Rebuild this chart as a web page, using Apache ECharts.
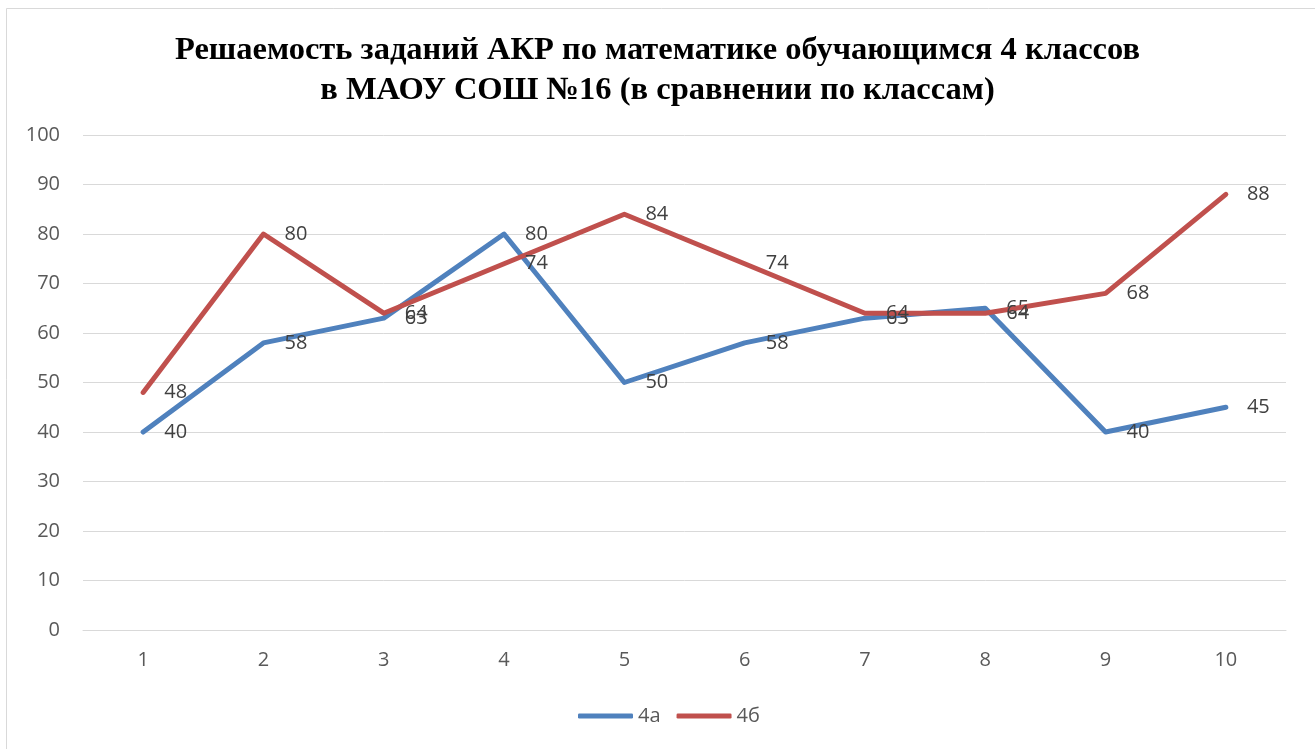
<!DOCTYPE html>
<html>
<head>
<meta charset="utf-8">
<script src="https://cdn.jsdelivr.net/npm/echarts@6/dist/echarts.min.js"></script>
<style>
  html, body { margin: 0; padding: 0; background: #fff; }
  #chart { width: 1315px; height: 749px; }
</style>
</head>
<body>
<div id="chart"></div>
<script>
const categories = ['1', '2', '3', '4', '5', '6', '7', '8', '9', '10']
const class4a = [40, 58, 63, 80, 50, 58, 63, 65, 40, 45]
const class4b = [48, 80, 64, 74, 84, 74, 64, 64, 68, 88]
const titleText = 'Решаемость заданий АКР по математике обучающимся 4 классов\nв МАОУ СОШ №16 (в сравнении по классам)'

const chart = echarts.init(document.getElementById('chart'))

const labelStyle = {
  show: true,
  position: 'right',
  distance: 21,
  offset: [0, 2],
  fontFamily: 'Open Sans, Calibri, sans-serif',
  fontSize: 20,
  color: '#404040'
}

function makeSeries(name, data, color) {
  return {
    name: name,
    type: 'line',
    data: data,
    showSymbol: true,
    symbol: 'circle',
    symbolSize: 0.1,
    lineStyle: { width: 5, color: color, cap: 'round', join: 'round' },
    itemStyle: { color: color },
    label: labelStyle,
    labelLayout: { hideOverlap: false },
    z: name === '4а' ? 2 : 3
  }
}

chart.setOption({
  animation: false,
  backgroundColor: '#fff',
  graphic: [{
    type: 'rect',
    shape: { x: 6.5, y: 8.5, width: 1320, height: 760 },
    style: { fill: 'none', stroke: '#d9d9d9', lineWidth: 1 },
    silent: true
  }],
  title: {
    text: titleText,
    left: 'center',
    top: 26,
    textStyle: {
      fontFamily: 'Liberation Serif, Times New Roman, serif',
      fontWeight: 'bold',
      fontSize: 32.5,
      lineHeight: 40,
      color: '#000'
    }
  },
  legend: {
    bottom: 18,
    left: 573,
    itemWidth: 55,
    itemHeight: 5,
    itemGap: 16,
    icon: 'roundRect',
    textStyle: {
      fontFamily: 'Open Sans, Calibri, sans-serif',
      fontSize: 20,
      color: '#595959'
    },
    data: ['4а', '4б']
  },
  grid: { left: 83, right: 29, top: 135, bottom: 119 },
  xAxis: {
    type: 'category',
    data: categories,
    boundaryGap: true,
    axisTick: { show: false },
    axisLine: { lineStyle: { color: '#d9d9d9', width: 1 } },
    axisLabel: {
      fontFamily: 'Open Sans, Calibri, sans-serif',
      fontSize: 20,
      color: '#595959',
      margin: 20
    }
  },
  yAxis: {
    type: 'value',
    min: 0,
    max: 100,
    interval: 10,
    axisLine: { show: false },
    axisTick: { show: false },
    splitLine: { lineStyle: { color: '#d9d9d9', width: 1 } },
    axisLabel: {
      fontFamily: 'Open Sans, Calibri, sans-serif',
      fontSize: 20,
      color: '#595959',
      margin: 23
    }
  },
  series: [
    makeSeries('4а', class4a, '#4f81bd'),
    makeSeries('4б', class4b, '#c0504d')
  ]
})
</script>
</body>
</html>
